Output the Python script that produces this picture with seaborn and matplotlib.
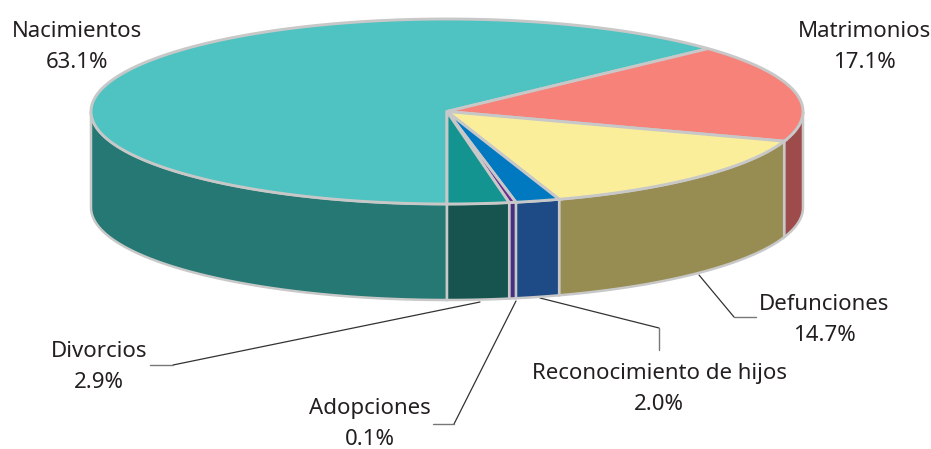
import numpy as np
import seaborn as sns
from matplotlib import pyplot as plt

categories = ['Nacimientos', 'Matrimonios', 'Defunciones',
              'Reconocimiento de hijos', 'Adopciones', 'Divorcios']
shares = [63.1, 17.1, 14.7, 2.0, 0.1, 2.9]
top_colors = ['#4FC3C1', '#F6827A', '#FBEE9A', '#0079C1', '#6A2C91', '#149490']
side_colors = ['#257873', '#9E4B4B', '#978C52', '#1E4A85', '#46307F', '#17544F']

sns.set_theme(style='white')
plt.rcParams['font.family'] = ['Noto Sans', 'DejaVu Sans']

# pie geometry, in image pixels
cx, cy = 447, 111.5
rx, ry = 356, 92.5
depth = 96
edge = '#C8C8C8'
ink = '#231F20'


def rim(start, stop):
    # bearing in degrees, clockwise from 12 o'clock
    t = np.radians(np.linspace(start, stop, max(int(abs(stop - start) * 2), 2)))
    return cx + rx * np.sin(t), cy - ry * np.cos(t)


fig = plt.figure(figsize=(9.31, 4.49), dpi=100)
ax = fig.add_axes([0, 0, 1, 1])
ax.set_xlim(0, 931)
ax.set_ylim(449, 0)
ax.axis('off')

# very small slices get a minimum sweep, otherwise the border hides them
sweeps = np.maximum(np.array(shares) * 3.6, 1.1)
stops = 180 + np.cumsum(sweeps)
stops[-1] = 540  # close the ring, shares are rounded
starts = np.r_[180, stops[:-1]]

# front wall, only the part between 90 and 270 degrees shows
for start, stop, color in zip(starts, stops, side_colors):
    for offset in (0, 360):
        a, b = max(start, 90 + offset), min(stop, 270 + offset)
        if a < b:
            x, y = rim(a, b)
            ax.fill(np.r_[x, x[::-1]], np.r_[y, y[::-1] + depth],
                    facecolor=color, edgecolor=edge, lw=1.8, zorder=2)

# top face
for start, stop, color in zip(starts, stops, top_colors):
    x, y = rim(start, stop)
    ax.fill(np.r_[cx, x], np.r_[cy, y], facecolor=color, edgecolor=edge,
            lw=2.1, zorder=3)

# leader lines
leaders = [
    ([699, 734], [275, 317], [734, 756], [317, 317]),
    ([540, 659], [298, 328], [659, 659], [328, 350]),
    ([516, 454], [301, 424], [454, 433], [424, 424]),
    ([480, 173], [302, 365], [173, 150], [365, 365]),
]
for x1, y1, x2, y2 in leaders:
    ax.plot(x1, y1, color='#333333', lw=0.9, zorder=1)
    ax.plot(x2, y2, color='#777777', lw=1.0, zorder=1)

label_xy = [(77, 47), (864, 47), (824, 320), (659, 389), (370, 424), (99, 367)]
for name, share, (x, y) in zip(categories, shares, label_xy):
    ax.text(x, y, '{:s}\n{:.1f}%'.format(name, share), ha='center', va='center',
            fontsize=16, color=ink, linespacing=1.58)

fig.savefig('out.png', dpi=100)
